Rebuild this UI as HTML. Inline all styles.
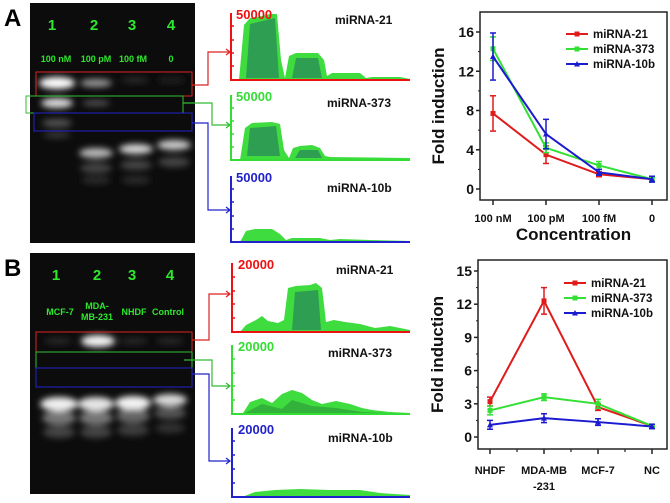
<!DOCTYPE html>
<html><head><meta charset="utf-8"><style>
body{margin:0;background:#fff;}
svg{display:block;font-family:"Liberation Sans",Arial,sans-serif;font-weight:bold;}
</style></head><body>
<svg id="fig" width="670" height="503" viewBox="0 0 670 503">
<defs>
<filter id="blur" x="-50%" y="-50%" width="200%" height="200%"><feGaussianBlur stdDeviation="3.2"/></filter>
<linearGradient id="pk" x1="0" y1="0" x2="1" y2="0"><stop offset="0" stop-color="#3fe03f"/><stop offset="0.3" stop-color="#2f9a50"/><stop offset="0.5" stop-color="#2a8a5a"/><stop offset="0.7" stop-color="#2f9a50"/><stop offset="1" stop-color="#3fe03f"/></linearGradient>
</defs>

<text x="4" y="26" font-size="24" fill="#000">A</text>
<g>
<rect x="30" y="3" width="165" height="240" fill="#0c0c0c"/>
<g filter="url(#blur)">
<ellipse cx="57" cy="83" rx="18" ry="6" fill="#fff"/>
<ellipse cx="57" cy="103" rx="16" ry="5" fill="#ddd"/>
<ellipse cx="57" cy="123" rx="15" ry="4" fill="#555"/>
<ellipse cx="57" cy="135" rx="14" ry="3" fill="#3a3a3a"/>
<ellipse cx="96" cy="83" rx="16" ry="4" fill="#999"/>
<ellipse cx="96" cy="103" rx="14" ry="3" fill="#555"/>
<ellipse cx="135" cy="80" rx="14" ry="3" fill="#2a2a2a"/>
<ellipse cx="171" cy="80" rx="14" ry="3" fill="#222"/>
<ellipse cx="96" cy="153" rx="17" ry="5" fill="#bbb"/>
<ellipse cx="136" cy="149" rx="17" ry="5" fill="#d8d8d8"/>
<ellipse cx="174" cy="145" rx="17" ry="5" fill="#ccc"/>
<ellipse cx="96" cy="168" rx="16" ry="5" fill="#444"/>
<ellipse cx="136" cy="165" rx="16" ry="5" fill="#444"/>
<ellipse cx="174" cy="162" rx="16" ry="5" fill="#444"/>
<ellipse cx="96" cy="180" rx="15" ry="4" fill="#2c2c2c"/>
<ellipse cx="136" cy="180" rx="15" ry="4" fill="#2c2c2c"/>
</g>
<g fill="#2ee82e" text-anchor="middle">
<text x="52" y="30" font-size="15">1</text><text x="94" y="30" font-size="15">2</text><text x="132" y="30" font-size="15">3</text><text x="171" y="30" font-size="15">4</text>
<text x="56" y="62" font-size="9">100 nM</text><text x="96" y="62" font-size="9">100 pM</text><text x="133" y="62" font-size="9">100 fM</text><text x="171" y="62" font-size="9">0</text>
</g>
<rect x="36" y="72" width="156" height="24" fill="none" stroke="#d22" stroke-width="1"/>
<rect x="26" y="96" width="157" height="17" fill="none" stroke="#3b3" stroke-width="1"/>
<rect x="34" y="113" width="158" height="18" fill="none" stroke="#22c" stroke-width="1"/>
</g>
<g fill="none" stroke-width="1.2">
<path d="M192 85H208V52H229" stroke="#d22"/><path d="M226 49L230 52L226 55" stroke="#d22"/>
<path d="M183 103H212V125H229" stroke="#3b3"/><path d="M226 122L230 125L226 128" stroke="#3b3"/>
<path d="M192 123H208V210H229" stroke="#22c"/><path d="M226 207L230 210L226 213" stroke="#22c"/>
</g>

<g>
<path d="M239 80 L244 25 L250 18 L262 16 L270 14 L277 14 L281 60 L285 78 L289 56 L296 53 L318 53 L324 60 L327 76 L332 73 L360 73 L366 78 L372 77 L400 77 L410 79 L410 80Z" fill="#3fdc3f"/>
<path d="M246 78 L250 24 L275 18 L279 78Z M292 78 L296 58 L318 58 L322 78Z" fill="#2a8a5a" opacity="0.75"/>
<path d="M231 13V80H410" fill="none" stroke="#e11" stroke-width="2"/>
<g stroke="#e11" stroke-width="1.5"><line x1="231" y1="26" x2="234" y2="26"/><line x1="231" y1="40" x2="234" y2="40"/><line x1="231" y1="53" x2="234" y2="53"/><line x1="231" y1="66" x2="234" y2="66"/></g>
<text x="236" y="19" font-size="13" fill="#e11">50000</text>
<text x="335" y="24" font-size="12" fill="#111">miRNA-21</text>
</g>
<g>
<path d="M240 160 L245 128 L252 123 L272 122 L280 124 L284 150 L289 158 L293 148 L300 146 L312 145 L320 148 L325 156 L330 157 L410 158 L410 160Z" fill="#3fdc3f"/>
<path d="M247 156 L250 128 L276 126 L280 156Z M295 158 L300 150 L318 150 L322 158Z" fill="#2a8a5a" opacity="0.75"/>
<path d="M231 95V160H410" fill="none" stroke="#3d3" stroke-width="2"/>
<g stroke="#3d3" stroke-width="1.5"><line x1="231" y1="108" x2="234" y2="108"/><line x1="231" y1="121" x2="234" y2="121"/><line x1="231" y1="134" x2="234" y2="134"/><line x1="231" y1="147" x2="234" y2="147"/></g>
<text x="236" y="101" font-size="13" fill="#3d3">50000</text>
<text x="327" y="107" font-size="12" fill="#111">miRNA-373</text>
</g>
<g>
<path d="M240 242 L246 231 L255 229 L272 229 L280 234 L286 240 L292 238 L320 238 L330 240 L340 239 L370 240 L410 241 L410 242Z" fill="#3fdc3f"/>
<path d="M231 176V242H410" fill="none" stroke="#22c" stroke-width="2"/>
<g stroke="#22c" stroke-width="1.5"><line x1="231" y1="189" x2="234" y2="189"/><line x1="231" y1="202" x2="234" y2="202"/><line x1="231" y1="216" x2="234" y2="216"/><line x1="231" y1="229" x2="234" y2="229"/></g>
<text x="236" y="182" font-size="13" fill="#22c">50000</text>
<text x="327" y="192" font-size="12" fill="#111">miRNA-10b</text>
</g>

<text x="4" y="276" font-size="24" fill="#000">B</text>
<g>
<rect x="30" y="253" width="165" height="241" fill="#0c0c0c"/>
<g filter="url(#blur)">
<ellipse cx="98" cy="341" rx="17" ry="6" fill="#f4f4f4"/>
<ellipse cx="58" cy="341" rx="14" ry="3" fill="#2a2a2a"/>
<ellipse cx="134" cy="341" rx="14" ry="3" fill="#2a2a2a"/>
<ellipse cx="170" cy="341" rx="14" ry="3" fill="#2a2a2a"/>
<ellipse cx="59" cy="404" rx="19" ry="7" fill="#f0f0f0"/>
<ellipse cx="96" cy="404" rx="18" ry="7" fill="#e6e6e6"/>
<ellipse cx="133" cy="403" rx="18" ry="7" fill="#f4f4f4"/>
<ellipse cx="170" cy="400" rx="17" ry="6" fill="#dcdcdc"/>
<ellipse cx="59" cy="418" rx="17" ry="7" fill="#777"/>
<ellipse cx="96" cy="418" rx="17" ry="7" fill="#777"/>
<ellipse cx="133" cy="416" rx="17" ry="7" fill="#666"/>
<ellipse cx="170" cy="413" rx="16" ry="6" fill="#555"/>
<ellipse cx="59" cy="432" rx="16" ry="6" fill="#444"/>
<ellipse cx="96" cy="432" rx="16" ry="6" fill="#444"/>
<ellipse cx="133" cy="430" rx="16" ry="6" fill="#3c3c3c"/>
<ellipse cx="170" cy="428" rx="15" ry="5" fill="#333"/>
</g>
<g fill="#2ee82e" text-anchor="middle">
<text x="56" y="280" font-size="15">1</text><text x="97" y="280" font-size="15">2</text><text x="132" y="280" font-size="15">3</text><text x="170" y="280" font-size="15">4</text>
<text x="60" y="315" font-size="9">MCF-7</text><text x="97" y="309" font-size="9">MDA-</text><text x="97" y="320" font-size="9">MB-231</text><text x="134" y="315" font-size="9">NHDF</text><text x="168" y="315" font-size="9">Control</text>
</g>
<rect x="36" y="332" width="156" height="20" fill="none" stroke="#d22" stroke-width="1"/>
<rect x="36" y="352" width="156" height="16" fill="none" stroke="#3b3" stroke-width="1"/>
<rect x="36" y="368" width="156" height="19" fill="none" stroke="#22c" stroke-width="1"/>
</g>
<g fill="none" stroke-width="1.2">
<path d="M192 340H209V294H229" stroke="#d22"/><path d="M226 291L230 294L226 297" stroke="#d22"/>
<path d="M184 360H212V386H229" stroke="#3b3"/><path d="M226 383L230 386L226 389" stroke="#3b3"/>
<path d="M192 374H209V461H229" stroke="#22c"/><path d="M226 458L230 461L226 464" stroke="#22c"/>
</g>
<g>
<path d="M240 332 L246 325 L256 320 L262 316 L268 321 L278 323 L284 320 L288 288 L296 286 L310 285 L316 283 L322 288 L326 322 L334 320 L345 322 L360 324 L375 328 L390 326 L410 330 L410 332Z" fill="#3fdc3f"/>
<path d="M292 330 L295 292 L318 290 L321 330Z" fill="#2a8a5a" opacity="0.75"/>
<path d="M232 263V332H410" fill="none" stroke="#e11" stroke-width="2"/>
<g stroke="#e11" stroke-width="1.5"><line x1="232" y1="277" x2="235" y2="277"/><line x1="232" y1="291" x2="235" y2="291"/><line x1="232" y1="304" x2="235" y2="304"/><line x1="232" y1="318" x2="235" y2="318"/></g>
<text x="238" y="269" font-size="13" fill="#e11">20000</text>
<text x="336" y="274" font-size="12" fill="#111">miRNA-21</text>
</g>
<g>
<path d="M243 413 L250 402 L262 398 L272 403 L282 394 L292 390 L302 393 L312 400 L322 404 L336 401 L350 404 L362 408 L372 410 L390 412 L410 413 L410 414Z" fill="#3fdc3f"/>
<path d="M243 414 L262 404 L282 409 L292 400 L312 406 L336 408 L362 412 L410 414Z" fill="#2e9e3a" opacity="0.7"/>
<path d="M232 345V414H410" fill="none" stroke="#3d3" stroke-width="2"/>
<g stroke="#3d3" stroke-width="1.5"><line x1="232" y1="359" x2="235" y2="359"/><line x1="232" y1="373" x2="235" y2="373"/><line x1="232" y1="386" x2="235" y2="386"/><line x1="232" y1="400" x2="235" y2="400"/></g>
<text x="238" y="351" font-size="13" fill="#3d3">20000</text>
<text x="328" y="357" font-size="12" fill="#111">miRNA-373</text>
</g>
<g>
<path d="M242 497 L255 492 L275 490 L300 489 L330 490 L360 490 L380 493 L410 495 L410 497Z" fill="#3fdc3f"/>
<path d="M232 428V497H410" fill="none" stroke="#22c" stroke-width="2"/>
<g stroke="#22c" stroke-width="1.5"><line x1="232" y1="441" x2="235" y2="441"/><line x1="232" y1="455" x2="235" y2="455"/><line x1="232" y1="469" x2="235" y2="469"/><line x1="232" y1="483" x2="235" y2="483"/></g>
<text x="238" y="434" font-size="13" fill="#22c">20000</text>
<text x="328" y="442" font-size="12" fill="#111">miRNA-10b</text>
</g>

<g id="chartA"></g>
<g id="chartB"></g>
</svg>
<script>
const catsA = ["100 nM","100 pM","100 fM","0"];
const ticksA = [0,4,8,12,16];
const a21 = [7.7,3.5,1.5,1.0];
const a21err = [1.8,0.9,0.25,0.15];
const a373 = [14.3,4.2,2.4,1.0];
const a373err = [1.2,0.5,0.4,0.15];
const a10b = [13.5,5.6,1.7,1.0];
const a10berr = [2.4,1.5,0.3,0.3];

const catsB = ["NHDF","MDA-MB|-231","MCF-7","NC"];
const ticksB = [0,3,6,9,12,15];
const b21 = [3.2,12.3,2.7,1.0];
const b21err = [0.4,1.2,0.3,0.1];
const b373 = [2.4,3.6,3.0,1.0];
const b373err = [0.4,0.3,0.4,0.1];
const b10b = [1.1,1.7,1.35,0.95];
const b10berr = [0.4,0.4,0.3,0.2];

const NS="http://www.w3.org/2000/svg";
function mk(parent,tag,attrs,text){const e=document.createElementNS(NS,tag);for(const k in attrs)e.setAttribute(k,attrs[k]);if(text!==undefined)e.textContent=text;parent.appendChild(e);return e;}

function drawChart(g,cfg){
  const {x0,x1,y0,y1,yPix0,yPixTop,yMaxTick,catX,cats,ticks,series,xTitle,minor}=cfg;
  const ys=v=>yPix0-(v/yMaxTick)*(yPix0-yPixTop);
  const xs=i=>catX[0]+i*(catX[1]-catX[0]);
  const box=mk(g,'rect',{x:x0,y:y0,width:x1-x0,height:y1-y0,fill:'none',stroke:'#222','stroke-width':1.5});
  
  
  ticks.forEach(t=>{
    const y=ys(t);
    mk(g,'line',{x1:x0-4,y1:y,x2:x0,y2:y,stroke:'#222','stroke-width':1.5});
    const lb=mk(g,'text',{x:x0-6,y:y+5,'font-size':14,'text-anchor':'end',fill:'#111'},String(t));
    
    
  });
  for(let i=0;i<ticks.length-1;i++){const y=ys((ticks[i]+ticks[i+1])/2);mk(g,'line',{x1:x0-2,y1:y,x2:x0,y2:y,stroke:'#222','stroke-width':1});}
  cats.forEach((c,i)=>{
    const x=xs(i);
    mk(g,'line',{x1:x,y1:y1,x2:x,y2:y1+5,stroke:'#222','stroke-width':1.5});
    if(minor&&i<cats.length-1){const xm=(x+xs(i+1))/2;mk(g,'line',{x1:xm,y1:y1,x2:xm,y2:y1+3,stroke:'#222','stroke-width':1.2});}
    const parts=c.split('|');
    parts.forEach((p,j)=>{
      const lb=mk(g,'text',{x:x,y:cfg.xLabY+j*16,'font-size':11,'text-anchor':'middle',fill:'#111'},p);
      
      
    });
  });
  const yt=mk(g,'text',{x:0,y:0,'font-size':17,'text-anchor':'middle',fill:'#111',transform:`translate(${cfg.yTitleX},${(y0+y1)/2}) rotate(-90)`},'Fold induction');
  
  
  if(xTitle){const xt=mk(g,'text',{x:(x0+x1)/2,y:cfg.xTitleY,'font-size':17,'text-anchor':'middle',fill:'#111'},xTitle);
    
    }
  series.forEach((s,si)=>{
    const sg=mk(g,'g',{});
    
    
    const pts=s.vals.map((v,i)=>xs(i)+','+ys(v)).join(' ');
    mk(sg,'polyline',{points:pts,fill:'none',stroke:s.color,'stroke-width':2});
    s.vals.forEach((v,i)=>{
      const x=xs(i),e=s.err[i];
      mk(sg,'line',{x1:x,y1:ys(v-e),x2:x,y2:ys(v+e),stroke:s.color,'stroke-width':1.5});
      mk(sg,'line',{x1:x-3,y1:ys(v-e),x2:x+3,y2:ys(v-e),stroke:s.color,'stroke-width':1.5});
      mk(sg,'line',{x1:x-3,y1:ys(v+e),x2:x+3,y2:ys(v+e),stroke:s.color,'stroke-width':1.5});
      const m=s.marker==='tri'?mk(sg,'path',{d:`M${x-3} ${ys(v)+2.5}L${x} ${ys(v)-3}L${x+3} ${ys(v)+2.5}Z`,fill:s.color}):
        mk(sg,'rect',{x:x-2.5,y:ys(v)-2.5,width:5,height:5,fill:s.color});
      
      
    });
    const ly=cfg.legY+si*15;
    const le=mk(g,'g',{});
    
    
    mk(le,'line',{x1:cfg.legX,y1:ly,x2:cfg.legX+22,y2:ly,stroke:s.color,'stroke-width':2});
    if(s.marker==='tri')mk(le,'path',{d:`M${cfg.legX+8} ${ly+2.5}L${cfg.legX+11} ${ly-3}L${cfg.legX+14} ${ly+2.5}Z`,fill:s.color});
    else mk(le,'rect',{x:cfg.legX+8.5,y:ly-2.5,width:5,height:5,fill:s.color});
    mk(le,'text',{x:cfg.legX+27,y:ly+4,'font-size':11.5,fill:'#111'},s.name);
  });
}
drawChart(document.getElementById('chartA'),{
  x0:480,x1:667,y0:12,y1:200,yPix0:189,yPixTop:32,yMaxTick:16,catX:[493,546],cats:catsA,ticks:ticksA,
  xLabY:222,xTitle:'Concentration',xTitleY:240,yTitleX:444,legX:566,legY:34,minor:false,
  series:[{name:'miRNA-21',vals:a21,err:a21err,color:'#e01b1b',marker:'sq'},
          {name:'miRNA-373',vals:a373,err:a373err,color:'#33e033',marker:'sq'},
          {name:'miRNA-10b',vals:a10b,err:a10berr,color:'#1b1bd0',marker:'tri'}]});
drawChart(document.getElementById('chartB'),{
  x0:478,x1:667,y0:260,y1:449,yPix0:437,yPixTop:271,yMaxTick:15,catX:[490,544],cats:catsB,ticks:ticksB,
  xLabY:474,xTitle:null,yTitleX:443,legX:564,legY:283,minor:true,
  series:[{name:'miRNA-21',vals:b21,err:b21err,color:'#e01b1b',marker:'sq'},
          {name:'miRNA-373',vals:b373,err:b373err,color:'#33e033',marker:'sq'},
          {name:'miRNA-10b',vals:b10b,err:b10berr,color:'#1b1bd0',marker:'tri'}]});
</script>
</body></html>
